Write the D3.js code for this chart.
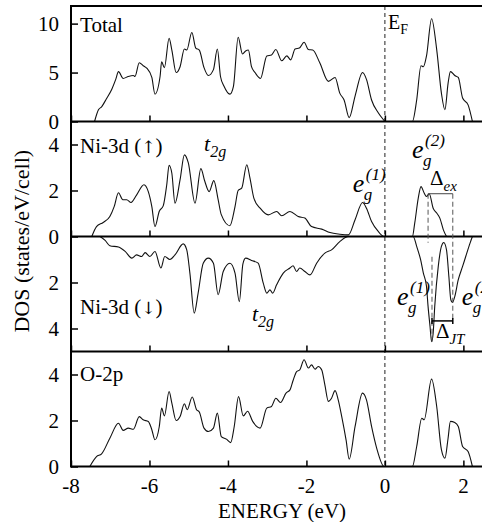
<!DOCTYPE html>
<html>
<head>
<meta charset="utf-8">
<script src="https://cdn.jsdelivr.net/npm/d3@7"></script>
</head>
<body style="margin:0">
<script>
// DOS curves: [energy (eV), DOS (states/eV/cell)]
const totalDos = [
  [-7.4, 0], [-7.30, 1.2], [-7.22, 1.5], [-7.1, 2.3], [-6.96, 3.3], [-6.86, 4.3], [-6.79, 5.1],
  [-6.67, 4.4], [-6.54, 4.6], [-6.41, 4.7], [-6.37, 4.6], [-6.26, 6.0], [-6.16, 5.7], [-6.07, 5.45],
  [-5.94, 4.5], [-5.86, 2.8], [-5.73, 4.6], [-5.69, 6.1], [-5.62, 5.5], [-5.50, 8.5], [-5.43, 7.3],
  [-5.32, 5.0], [-5.22, 5.6], [-5.11, 7.4], [-5.05, 7.3], [-4.92, 9.1], [-4.82, 7.5], [-4.73, 7.3],
  [-4.61, 5.5], [-4.50, 4.7], [-4.37, 5.3], [-4.27, 7.4], [-4.19, 4.6], [-4.10, 3.6], [-3.95, 2.8],
  [-3.86, 3.6], [-3.74, 8.6], [-3.63, 6.9], [-3.55, 7.2], [-3.48, 7.3], [-3.40, 5.6], [-3.31, 5.0],
  [-3.17, 4.4], [-3.01, 6.7], [-2.89, 6.8], [-2.78, 7.35], [-2.63, 6.2], [-2.50, 6.7], [-2.40, 6.3],
  [-2.29, 7.4], [-2.18, 7.5], [-2.06, 8.1], [-1.95, 7.35], [-1.84, 7.3], [-1.66, 6.0], [-1.44, 4.1],
  [-1.27, 4.5], [-1.15, 2.9], [-1.04, 2.2], [-0.91, 0.4], [-0.76, 2.6], [-0.57, 5.0], [-0.47, 4.3],
  [-0.34, 2.2], [-0.17, 0.9], [-0.02, 0.1], [0, 0], [0.70, 0], [0.81, 2.2], [0.92, 5.7], [0.98, 5.6],
  [1.06, 6.7], [1.19, 10.5], [1.32, 7.35], [1.44, 2.9], [1.53, 1.2], [1.61, 3.9], [1.67, 5.1],
  [1.78, 4.7], [1.87, 4.5], [1.98, 2.4], [2.12, 1.7], [2.23, 0]
];

const niUpDos = [
  [-7.47, 0], [-7.35, 0.43], [-7.18, 0.61], [-7.01, 0.87], [-6.9, 1.3], [-6.79, 1.9], [-6.68, 1.6],
  [-6.58, 1.6], [-6.47, 1.48], [-6.33, 1.8], [-6.14, 2.25], [-6.03, 1.95], [-5.94, 1.3], [-5.86, 0.43],
  [-5.75, 1.1], [-5.65, 1.33], [-5.56, 2.25], [-5.50, 3.1], [-5.43, 2.75], [-5.35, 1.45], [-5.22, 2.47],
  [-5.11, 3.55], [-5.01, 3.2], [-4.84, 1.45], [-4.69, 2.95], [-4.59, 2.4], [-4.48, 1.95], [-4.36, 2.43],
  [-4.25, 1.6], [-4.17, 0.95], [-3.95, 0.47], [-3.82, 1.3], [-3.74, 2.0], [-3.65, 2.1], [-3.52, 3.12],
  [-3.44, 2.55], [-3.34, 1.67], [-3.18, 1.23], [-2.97, 0.94], [-2.76, 1.09], [-2.63, 0.9], [-2.42, 1.09],
  [-2.21, 0.87], [-2.04, 0.8], [-1.87, 0.43], [-1.61, 0.32], [-1.40, 0.17], [-1.15, 0.1], [-0.93, 0.07],
  [-0.76, 0.73], [-0.57, 1.48], [-0.47, 1.23], [-0.34, 0.65], [-0.17, 0.22], [-0.02, 0], [0.70, 0],
  [0.76, 0.58], [0.85, 1.67], [0.92, 2.17], [1.00, 1.89], [1.06, 1.74], [1.13, 1.86], [1.23, 1.23],
  [1.32, 1.02], [1.40, 0.8], [1.49, 0.29], [1.57, 0]
];

// spin-down DOS, drawn downwards
const niDownDos = [
  [-7.26, 0], [-7.13, 0.17], [-7.01, 0.4], [-6.79, 0.46], [-6.62, 0.65], [-6.45, 0.94], [-6.33, 0.8],
  [-6.20, 0.87], [-6.11, 0.7], [-5.99, 0.87], [-5.86, 0.65], [-5.71, 1.37], [-5.61, 0.87], [-5.48, 1.0],
  [-5.35, 0.8], [-5.14, 0.32], [-5.05, 0.58], [-4.97, 1.59], [-4.86, 3.33], [-4.76, 2.46], [-4.63, 1.16],
  [-4.50, 0.94], [-4.37, 1.16], [-4.25, 2.53], [-4.12, 1.52], [-3.95, 1.16], [-3.82, 1.59], [-3.71, 2.83],
  [-3.62, 1.2], [-3.55, 0.94], [-3.40, 1.04], [-3.23, 1.16], [-3.10, 2.03], [-3.01, 2.46], [-2.93, 2.32],
  [-2.86, 2.46], [-2.76, 2.1], [-2.59, 1.59], [-2.42, 1.37], [-2.34, 1.27], [-2.25, 1.52], [-2.17, 1.37],
  [-2.04, 1.52], [-1.91, 1.67], [-1.74, 1.16], [-1.53, 0.72], [-1.36, 0.58], [-1.15, 0.22], [-0.93, 0],
  [0.72, 0], [0.81, 0.43], [0.91, 1.01], [0.98, 1.59], [1.06, 2.17], [1.10, 3.04], [1.15, 3.91],
  [1.19, 4.57], [1.23, 4.2], [1.27, 3.04], [1.36, 1.3], [1.44, 0.43], [1.50, 0.26], [1.57, 0.58],
  [1.63, 1.74], [1.68, 2.75], [1.72, 2.87], [1.78, 2.61], [1.87, 1.88], [1.98, 1.3], [2.06, 0.87],
  [2.17, 0.29], [2.23, 0]
];

const o2pDos = [
  [-7.52, 0], [-7.35, 0.43], [-7.22, 0.55], [-7.01, 1.23], [-6.79, 1.88], [-6.67, 1.57], [-6.54, 1.67],
  [-6.41, 1.62], [-6.26, 2.17], [-6.16, 2.03], [-6.03, 1.96], [-5.94, 1.6], [-5.86, 1.16], [-5.75, 1.74],
  [-5.69, 2.54], [-5.62, 2.2], [-5.50, 3.26], [-5.43, 2.76], [-5.32, 2.0], [-5.22, 2.17], [-5.11, 2.73],
  [-5.04, 2.47], [-4.91, 3.02], [-4.80, 2.47], [-4.73, 2.37], [-4.61, 1.67], [-4.50, 1.52], [-4.37, 1.67],
  [-4.27, 2.32], [-4.17, 1.3], [-4.04, 1.19], [-3.93, 1.04], [-3.84, 1.74], [-3.73, 3.04], [-3.61, 2.2],
  [-3.50, 2.4], [-3.37, 1.96], [-3.18, 1.67], [-3.01, 2.54], [-2.89, 2.61], [-2.78, 2.97], [-2.66, 2.78],
  [-2.52, 3.19], [-2.42, 3.33], [-2.34, 3.74], [-2.25, 4.13], [-2.17, 4.2], [-2.06, 4.64], [-1.95, 4.28],
  [-1.87, 4.42], [-1.78, 4.23], [-1.70, 4.35], [-1.61, 4.2], [-1.53, 3.55], [-1.44, 2.83], [-1.36, 2.97],
  [-1.27, 3.3], [-1.19, 2.9], [-1.10, 2.17], [-0.99, 1.16], [-0.91, 0.32], [-0.76, 1.74], [-0.57, 3.19],
  [-0.47, 2.9], [-0.34, 1.74], [-0.21, 0.8], [-0.02, 0], [0.70, 0], [0.81, 0.87], [0.94, 2.1],
  [1.0, 2.03], [1.19, 3.8], [1.32, 2.61], [1.44, 0.73], [1.53, 0.36], [1.61, 1.23], [1.67, 1.96],
  [1.78, 1.91], [1.87, 1.74], [1.98, 0.87], [2.12, 0.65], [2.23, 0]
];

// axes
const energyTicks = [-8, -6, -4, -2, 0, 2];
const totalTicks = [0, 5, 10];
const upTicks = [0, 2, 4];
const downTicks = [2, 4];
const o2pTicks = [0, 2, 4];
const panelNames = ["Total", "Ni-3d (", "Ni-3d (", "O-2p"];
const panelArrows = ["", "\u2191", "\u2193", ""];

// splitting marks: e_g(2) up peaks (Δex) and e_g(1)/e_g(2) down peaks (ΔJT)
const exEnergies = [1.10, 1.73];
const jtEnergies = [1.20, 1.73];
const exLevel = 1.86;   // up-spin DOS
const jtLevel = 3.67;   // down-spin DOS

const width = 482, height = 522;
const serif = '"Liberation Serif"';

const svg = d3.select("body").append("svg")
  .attr("width", width)
  .attr("height", height);

const x = d3.scaleLinear().domain([-8, 2.5]).range([71, 483]);

// four stacked panels sharing the energy axis
const panels = [
  { name: 0, data: totalDos, ticks: totalTicks, max: 11.8, top: 6, bottom: 121.5, flip: false, labelAt: 9.1 },
  { name: 1, data: niUpDos, ticks: upTicks, max: 5, top: 121.5, bottom: 236.5, flip: false, labelAt: 3.63 },
  { name: 2, data: niDownDos, ticks: downTicks, max: 5, top: 236.5, bottom: 351.5, flip: true, labelAt: 3.37 },
  { name: 3, data: o2pDos, ticks: o2pTicks, max: 5, top: 351.5, bottom: 466.5, flip: false, labelAt: 3.72 }
];
panels.forEach((p) => {
  p.y = d3.scaleLinear()
    .domain([0, p.max])
    .range(p.flip ? [p.top, p.bottom] : [p.bottom, p.top]);
});
const [pTotal, pUp, pDown, pO] = panels;

// Fermi level
svg.append("line")
  .attr("x1", x(0)).attr("x2", x(0))
  .attr("y1", pTotal.top).attr("y2", pO.bottom)
  .attr("stroke", "#222")
  .attr("stroke-width", 1)
  .attr("stroke-dasharray", "4,3");

// curves
panels.forEach((p) => {
  const line = d3.line()
    .x((d) => x(d[0]))
    .y((d) => p.y(d[1]))
    .curve(d3.curveMonotoneX);
  svg.append("path")
    .datum(p.data)
    .attr("d", line)
    .attr("fill", "none")
    .attr("stroke", "#111")
    .attr("stroke-width", 1.1);
});

// axes: ticks point inward, labels drawn as plain texts below
panels.forEach((p, i) => {
  const xAxis = d3.axisBottom(x)
    .tickValues(energyTicks)
    .tickSizeInner(-6)
    .tickSizeOuter(0)
    .tickFormat("");
  const gx = svg.append("g")
    .attr("transform", `translate(0,${p.bottom})`)
    .call(xAxis);
  gx.select(".domain").remove();
  gx.selectAll("text").remove();
  gx.selectAll("line").attr("stroke-width", 1.5);

  const yAxis = d3.axisLeft(p.y)
    .tickValues(p.ticks)
    .tickSizeInner(-7)
    .tickSizeOuter(0)
    .tickFormat("");
  const gy = svg.append("g")
    .attr("transform", `translate(${x(-8)},0)`)
    .call(yAxis);
  gy.select(".domain").remove();
  gy.selectAll("text").remove();
  gy.selectAll("line").attr("stroke-width", 1.5);

  svg.selectAll(null)
    .data(p.ticks)
    .enter()
    .append("text")
    .attr("x", x(-8) - 12)
    .attr("y", (d) => p.y(d))
    .attr("dy", "0.35em")
    .attr("text-anchor", "end")
    .attr("font-size", 21)
    .style("font-family", serif)
    .text((d) => d);
});

svg.selectAll(null)
  .data(energyTicks)
  .enter()
  .append("text")
  .attr("x", (d) => x(d))
  .attr("y", pO.bottom + 26)
  .attr("text-anchor", "middle")
  .attr("font-size", 21)
  .style("font-family", serif)
  .text((d) => (d < 0 ? "-" + Math.abs(d) : String(d)));

// frame lines
const hLines = [pTotal.top, pTotal.bottom, pUp.bottom, pDown.bottom, pO.bottom];
svg.selectAll(".hline")
  .data(hLines)
  .enter()
  .append("line")
  .attr("x1", x(-8)).attr("x2", width + 2)
  .attr("y1", (d) => d).attr("y2", (d) => d)
  .attr("stroke", "#000")
  .attr("stroke-width", 2);
svg.append("line")
  .attr("x1", x(-8)).attr("x2", x(-8))
  .attr("y1", pTotal.top - 1).attr("y2", pO.bottom + 1)
  .attr("stroke", "#000")
  .attr("stroke-width", 2);

// panel names (arrows from DejaVu, closing paren after)
panels.forEach((p) => {
  const t = svg.append("text")
    .attr("x", x(-7.77))
    .attr("y", p.y(p.labelAt))
    .attr("font-size", 21)
    .style("font-family", serif);
  t.append("tspan").text(panelNames[p.name]);
  if (panelArrows[p.name]) {
    t.append("tspan")
      .attr("font-size", 17)
      .style("font-family", '"DejaVu Serif"')
      .text(panelArrows[p.name]);
    t.append("tspan").text(")");
  }
});

// axis titles
svg.append("text")
  .attr("x", 282)
  .attr("y", 518)
  .attr("text-anchor", "middle")
  .attr("font-size", 21)
  .style("font-family", serif)
  .text("ENERGY (eV)");
svg.append("text")
  .attr("transform", `translate(29,${(pTotal.top + pO.bottom) / 2 + 5}) rotate(-90)`)
  .attr("text-anchor", "middle")
  .attr("font-size", 22)
  .style("font-family", serif)
  .text("DOS (states/eV/cell)");

// E_F
const ef = svg.append("text")
  .attr("x", x(0.08))
  .attr("y", pTotal.y(9.4))
  .attr("font-size", 20)
  .style("font-family", serif);
ef.append("tspan").text("E");
ef.append("tspan").attr("font-size", 14).attr("dy", 5).text("F");

// t2g labels
function t2g(px, py) {
  const t = svg.append("text")
    .attr("x", px).attr("y", py)
    .attr("font-size", 22)
    .attr("font-style", "italic")
    .style("font-family", serif);
  t.append("tspan").text("t");
  t.append("tspan").attr("font-size", 16).attr("dy", 6).text("2g");
}
t2g(x(-4.61), pUp.y(3.72));
t2g(x(-3.39), pDown.y(3.67));

// e_g labels with stacked sub/superscript
function eg(px, py, sup) {
  svg.append("text")
    .attr("x", px).attr("y", py)
    .attr("font-size", 26)
    .attr("font-style", "italic")
    .style("font-family", serif)
    .text("e");
  svg.append("text")
    .attr("x", px + 11).attr("y", py + 8)
    .attr("font-size", 17)
    .attr("font-style", "italic")
    .style("font-family", serif)
    .text("g");
  svg.append("text")
    .attr("x", px + 13).attr("y", py - 12)
    .attr("font-size", 17)
    .attr("font-style", "italic")
    .style("font-family", serif)
    .text(sup);
}
eg(x(-0.82), pUp.y(1.93), "(1)");
eg(x(0.69), pUp.y(3.41), "(2)");
eg(x(0.31), pDown.y(2.98), "(1)");
eg(x(1.96), pDown.y(2.98), "(2)");

// guide lines for the splittings
const guides = [
  [exEnergies[0], pUp.y(exLevel), pDown.y(0.27)],
  [exEnergies[1], pUp.y(exLevel), pDown.y(jtLevel)],
  [jtEnergies[0], pDown.y(0.88), pDown.y(4.57)]
];
svg.selectAll(".guide")
  .data(guides)
  .enter()
  .append("line")
  .attr("x1", (d) => x(d[0])).attr("x2", (d) => x(d[0]))
  .attr("y1", (d) => d[1]).attr("y2", (d) => d[2])
  .attr("stroke", "#555")
  .attr("stroke-width", 1)
  .attr("stroke-dasharray", "5,3");

svg.append("line")
  .attr("x1", x(exEnergies[0])).attr("x2", x(exEnergies[1]))
  .attr("y1", pUp.y(exLevel)).attr("y2", pUp.y(exLevel))
  .attr("stroke", "#444")
  .attr("stroke-width", 1);

svg.append("line")
  .attr("x1", x(jtEnergies[0])).attr("x2", x(jtEnergies[1]))
  .attr("y1", pDown.y(jtLevel)).attr("y2", pDown.y(jtLevel))
  .attr("stroke", "#000")
  .attr("stroke-width", 1.5);
svg.selectAll(".cap")
  .data(jtEnergies)
  .enter()
  .append("line")
  .attr("x1", (d) => x(d)).attr("x2", (d) => x(d))
  .attr("y1", pDown.y(jtLevel) - 3).attr("y2", pDown.y(jtLevel) + 3)
  .attr("stroke", "#000")
  .attr("stroke-width", 1.5);

function delta(px, py, sub) {
  const t = svg.append("text")
    .attr("x", px).attr("y", py)
    .attr("font-size", 21)
    .style("font-family", serif);
  t.append("tspan").text("\u0394");
  t.append("tspan").attr("font-size", 15).attr("font-style", "italic").attr("dy", 6).text(sub);
}
delta(x(1.15), pUp.y(2.24), "ex");
delta(x(1.30), pDown.y(4.41), "JT");
</script>
</body>
</html>
